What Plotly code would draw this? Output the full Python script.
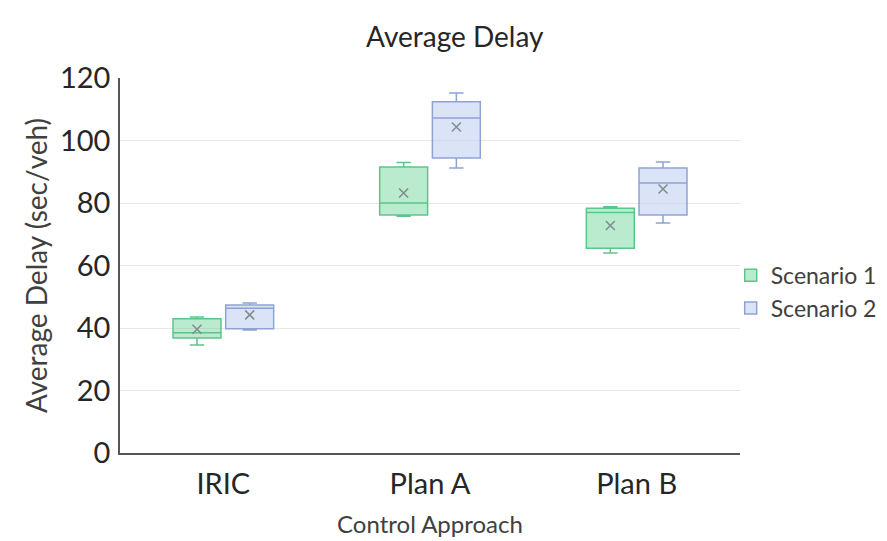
import plotly.graph_objects as go

categories = ["IRIC", "Plan A", "Plan B"]
series_names = ["Scenario 1", "Scenario 2"]

s1_lower = [34.6, 75.8, 64.0]
s1_q1 = [36.8, 76.2, 65.5]
s1_median = [38.5, 80.0, 77.0]
s1_q3 = [43.0, 91.5, 78.3]
s1_upper = [43.5, 93.0, 78.8]
s1_mean = [39.6, 83.2, 72.8]

s2_lower = [39.4, 91.2, 73.6]
s2_q1 = [39.8, 94.4, 76.2]
s2_median = [46.3, 107.2, 86.4]
s2_q3 = [47.4, 112.4, 91.2]
s2_upper = [48.0, 115.2, 93.1]
s2_mean = [44.2, 104.3, 84.5]

y_ticks = [0, 20, 40, 60, 80, 100, 120]

FONT = "Lato"
green_line = "#5cc68a"
green_fill = "rgba(120,215,160,0.5)"
blue_line = "#8ea2d6"
blue_fill = "rgba(190,205,240,0.55)"

fig = go.Figure()
specs = [
    (series_names[0], s1_lower, s1_q1, s1_median, s1_q3, s1_upper, s1_mean, green_line, green_fill),
    (series_names[1], s2_lower, s2_q1, s2_median, s2_q3, s2_upper, s2_mean, blue_line, blue_fill),
]
for name, lo, q1, med, q3, up, mean, lc, fc in specs:
    fig.add_trace(go.Box(
        name=name, x=categories, q1=q1, median=med, q3=q3,
        lowerfence=lo, upperfence=up, offsetgroup=name, legendgroup=name,
        fillcolor=fc, line=dict(color=lc, width=1.5), whiskerwidth=0.3,
        boxpoints=False,
    ))
for name, lo, q1, med, q3, up, mean, lc, fc in specs:
    fig.add_trace(go.Scatter(
        x=categories, y=mean, mode="markers", offsetgroup=name,
        legendgroup=name, showlegend=False, hoverinfo="skip",
        marker=dict(symbol="x-thin", size=9, line=dict(color="#7f8c8d", width=1.5)),
    ))

fig.update_layout(
    width=887, height=541,
    margin=dict(l=112, r=155, t=70, b=96, autoexpand=False),
    paper_bgcolor="white", plot_bgcolor="white",
    boxmode="group", boxgap=0.49, boxgroupgap=0.09,
    scattermode="group", scattergap=0.49,
    font=dict(family=FONT, color="#404040"),
    title=dict(text="Average Delay", x=0.54, xref="paper", y=0.946, yref="container",
               xanchor="center", yanchor="middle", font=dict(size=28, color="#262626")),
    legend=dict(x=0.985, xanchor="left", y=0.43, yanchor="middle",
                font=dict(size=23, color="#404040"), tracegroupgap=0,
                itemwidth=30, bgcolor="rgba(0,0,0,0)"),
    xaxis=dict(
        type="category", categoryorder="array", categoryarray=categories,
        showline=True, linecolor="#555555", linewidth=1.5, automargin=False,
        tickfont=dict(size=29, color="#262626"), ticks="", ticklabelstandoff=4,
        title=dict(text="Control Approach", font=dict(size=24, color="#404040"), standoff=18),
        showgrid=False,
    ),
    yaxis=dict(
        range=[0, 120], tickvals=y_ticks, showline=True, linecolor="#555555", linewidth=1.5,
        gridcolor="#e6e6e6", gridwidth=1, zeroline=False, automargin=False,
        tickfont=dict(size=29, color="#262626"), ticks="", ticklabelstandoff=2,
        title=dict(text="Average Delay (sec/veh)", font=dict(size=28, color="#404040"), standoff=4),
    ),
)

fig.write_html("out.html")
